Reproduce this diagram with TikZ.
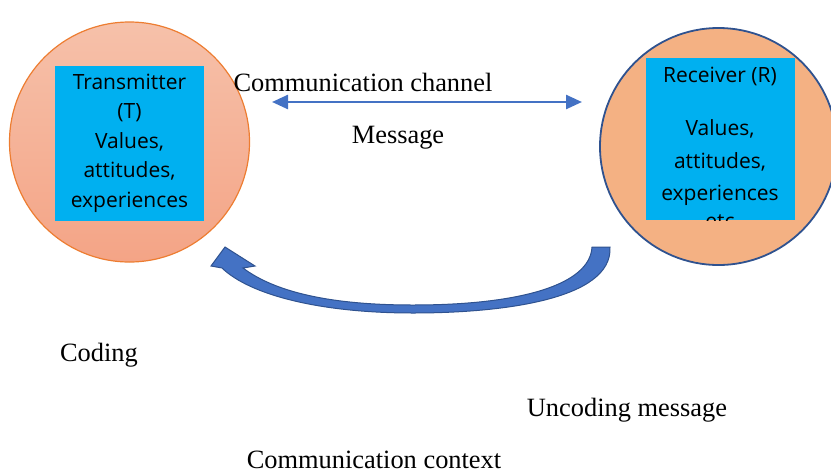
\documentclass[tikz,border=0pt]{standalone}
\usepackage{fontspec}
\setmainfont{Liberation Serif}
\newfontfamily\boxfont{Open Sans}
\usetikzlibrary{arrows.meta}

\definecolor{peach}{HTML}{F4B183}
\definecolor{peachtop}{HTML}{F6C1AA}
\definecolor{peachbot}{HTML}{F4A486}
\definecolor{edgeorange}{HTML}{ED7D31}
\definecolor{edgeblue}{HTML}{2F528F}
\definecolor{arrowblue}{HTML}{4472C4}
\definecolor{boxcyan}{HTML}{00B0F0}

\tikzset{
  party/.style={circle, inner sep=0pt},
  infobox/.style={fill=boxcyan, inner sep=0pt, minimum width=74.5pt},
  boxtext/.style={font=\boxfont\fontsize{10.5}{14.75}\selectfont, align=center, inner sep=0pt},
  caption/.style={font=\fontsize{13.2}{15}\selectfont, inner sep=0pt}
}

\begin{document}
\begin{tikzpicture}[x=0.5pt,y=-0.5pt]
    \useasboundingbox (0,0) rectangle (831,472);
    % the two parties
    \node[party, draw=edgeorange, line width=0.6pt, top color=peachtop, bottom color=peachbot,
          minimum size=120pt] (tcirc) at (129.5,142) {};
    \node[party, draw=edgeblue, line width=0.9pt, fill=peach, minimum size=118.5pt] (rcirc) at (718.5,146.5) {};
    \node[infobox, minimum height=77.5pt] (tbox) at (129.5,143.5) {};
    \node[boxtext] (ttext) at (129.5,143) {Transmitter\\(T)\\Values,\\attitudes,\\experiences};
    \node[infobox, minimum height=81pt] (rbox) at (720,139) {};
    \begin{scope}
      \clip (rbox.south west) rectangle (rbox.north east);
      \node[boxtext, anchor=north] (rtext) at (720,67)
        {Receiver (R)\\[11.75pt]Values,\\[1.5pt]attitudes,\\[1.5pt]experiences\\[-1pt]etc};
    \end{scope}
    % channel
    \coordinate (chanL) at (272,102);
    \coordinate (chanR) at (582,102);
    \draw[arrowblue, line width=1.25pt, {Triangle[length=8pt,width=7pt]}-{Triangle[length=8pt,width=7pt]}] (chanL) -- (chanR);
    \node[caption] (chan) at (363,82) {Communication channel};
    \node[caption] (msg) at (398,138) {Message};
    % feedback arrow
    \filldraw[fill=arrowblue, draw=edgeblue, line width=0.5pt]
      (610,247) .. controls (613,300) and (500,313) .. (413,313)
      .. controls (320,313) and (250,295) .. (222,268)
      -- (211,266) -- (225,247) -- (255,266) -- (243,268)
      .. controls (275,292) and (330,305) .. (413,305)
      .. controls (520,305) and (590,285) .. (592,247) -- cycle;
    % captions
    \node[caption] (cod) at (99,355) {Coding};
    \node[caption] (unc) at (627,410) {Uncoding message};
    \node[caption] (ctx) at (374,460) {Communication context};
\end{tikzpicture}
\end{document}
